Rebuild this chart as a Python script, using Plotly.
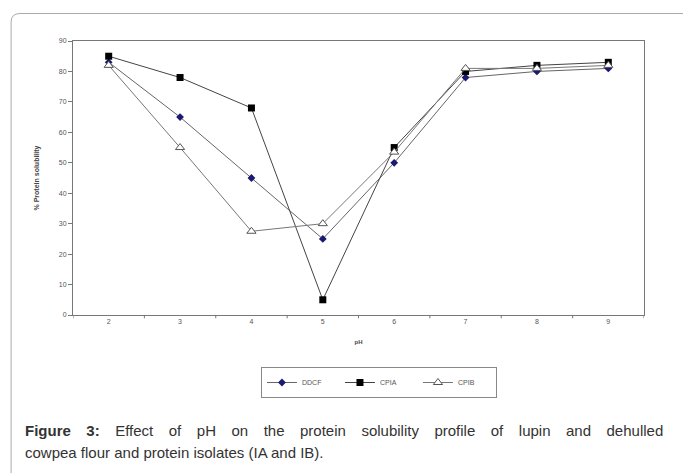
import plotly.graph_objects as go

ph = [2, 3, 4, 5, 6, 7, 8, 9]
ddcf = [83, 65, 45, 25, 50, 78, 80, 81]
cpia = [85, 78, 68, 5, 55, 80, 82, 83]
cpib = [82, 55, 27.5, 30, 53.5, 81, 81, 82]
y_ticks = [0, 10, 20, 30, 40, 50, 60, 70, 80, 90]

W, H = 683, 473
L, R, T, B = 72.5, 644.5, 41, 315

def px_x(p):
    return (p - L) / (R - L)

def px_y(p):
    return 1 - (p - T) / (B - T)

fig = go.Figure()
fig.add_trace(go.Scatter(x=ph, y=ddcf, name="DDCF", mode="lines+markers",
                         line=dict(color="#666666", width=1),
                         marker=dict(symbol="diamond", size=6, color="#1a1a70")))
fig.add_trace(go.Scatter(x=ph, y=cpia, name="CPIA", mode="lines+markers",
                         line=dict(color="#444444", width=1),
                         marker=dict(symbol="square", size=7, color="#000000")))
fig.add_trace(go.Scatter(x=ph, y=cpib, name="CPIB", mode="lines+markers",
                         line=dict(color="#777777", width=1),
                         marker=dict(symbol="triangle-up", size=8, color="white",
                                     line=dict(color="#555555", width=1))))

fig.update_layout(
    width=W, height=H,
    margin=dict(l=L, r=W - R, t=T, b=H - B, pad=0),
    paper_bgcolor="white", plot_bgcolor="white",
    font=dict(family="Liberation Sans, Arial, sans-serif", color="#444444", size=7),
    showlegend=True,
    legend=dict(orientation="h", x=px_x(379), xref="paper", xanchor="center",
                y=px_y(382.5), yanchor="middle",
                bordercolor="#888888", borderwidth=1, bgcolor="white",
                font=dict(size=7, color="#555555"),
                entrywidth=33, itemwidth=30, traceorder="normal"),
    xaxis=dict(range=[1.5, 9.5], tickvals=ph, ticktext=[str(v) for v in ph],
               showgrid=False, zeroline=False, showline=True, linecolor="#777777",
               linewidth=1, mirror=True, ticks="", tickfont=dict(size=7, color="#555555"),
               title=dict(text="<b>pH</b>", font=dict(size=6, color="#444444"), standoff=15)),
    yaxis=dict(range=[0, 90], tickvals=y_ticks, showgrid=False, zeroline=False,
               showline=True, linecolor="#777777", linewidth=1, mirror=True,
               ticks="outside", ticklen=4, tickcolor="#777777",
               tickfont=dict(size=7, color="#555555"),
               title=dict(text="<b>% Protein solubility</b>", font=dict(size=7, color="#444444"),
                          standoff=18)),
)

# x tick marks at category boundaries
for b in [1.5 + i for i in range(9)]:
    fig.add_shape(type="line", xref="x", yref="paper", x0=b, x1=b, y0=0, y1=-0.012,
                  line=dict(color="#777777", width=1))

# outer rounded frame
fig.add_shape(type="path", xref="paper", yref="paper", layer="above",
              path="M {x0},{y1} L {x0},{ya} Q {x0},{y0} {xa},{y0} L {x2},{y0}".format(
                  x0=px_x(10.5), y1=px_y(480), ya=px_y(22), y0=px_y(13.5),
                  xa=px_x(19.5), x2=px_x(690)),
              line=dict(color="#aaaaaa", width=1))

gap = " \u00a0\u00a0\u2009"
line1_words = ["Effect", "of", "pH", "on", "the", "protein", "solubility", "profile",
               "of", "lupin", "and", "dehulled"]
line1 = "<b>Figure" + gap + "3:</b>" + gap + gap.join(line1_words)
line2 = "cowpea flour and protein isolates (IA and IB)."

fig.add_annotation(xref="paper", yref="paper", x=px_x(22), y=px_y(430),
                   xanchor="left", yanchor="middle", showarrow=False, align="left",
                   text=line1,
                   font=dict(family="Liberation Sans, Arial, sans-serif", size=15, color="#333333"))
fig.add_annotation(xref="paper", yref="paper", x=px_x(22), y=px_y(452),
                   xanchor="left", yanchor="middle", showarrow=False, align="left",
                   text=line2,
                   font=dict(family="Liberation Sans, Arial, sans-serif", size=15, color="#333333"))

fig.write_html("out.html", config={"displayModeBar": False},
               post_script="document.body.style.margin='0px';")
